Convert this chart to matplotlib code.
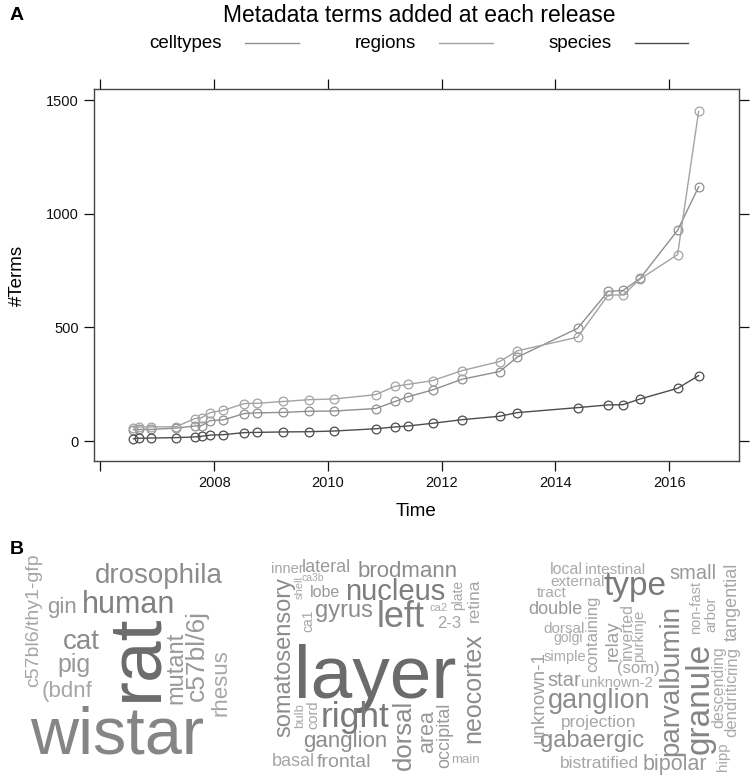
import matplotlib
matplotlib.use("Agg")
import matplotlib.pyplot as plt
from matplotlib.lines import Line2D

plt.rcParams['font.family'] = ['Liberation Sans', 'DejaVu Sans']

# release dates (decimal years) and cumulative term counts
release_year = [2006.58, 2006.67, 2006.89, 2007.33, 2007.66, 2007.78, 2007.93, 2008.16,
                2008.53, 2008.75, 2009.21, 2009.67, 2010.11, 2010.84, 2011.18, 2011.40,
                2011.84, 2012.36, 2013.02, 2013.33, 2014.39, 2014.93, 2015.19, 2015.49,
                2016.15, 2016.52]
celltypes = [50, 51, 51, 57, 66, 68, 90, 93, 121, 124, 126, 131, 132, 143, 174, 194,
             225, 272, 306, 369, 496, 659, 663, 716, 928, 1119]
regions = [59, 62, 62, 63, 99, 103, 125, 135, 165, 166, 174, 182, 185, 204, 241, 249,
           266, 310, 350, 397, 457, 643, 643, 713, 821, 1451]
species = [10, 12, 13, 15, 18, 21, 26, 28, 37, 38, 40, 41, 44, 54, 62, 66, 78, 94,
           109, 125, 147, 159, 160, 185, 232, 288]
series_names = ["celltypes", "regions", "species"]
year_ticks = [2006, 2008, 2010, 2012, 2014, 2016]
year_labels = ["", "2008", "2010", "2012", "2014", "2016"]
count_ticks = [0, 500, 1000, 1500]

# word clouds: words and their font size (pt)
species_words = ["wistar", "rat", "drosophila", "human", "gin", "cat", "pig", "(bdnf",
                 "c57bl6/thy1-gfp", "mutant", "c57bl/6j", "rhesus"]
species_sizes = [48, 54, 20, 22, 16, 20, 18, 16, 14, 17, 19, 16]

region_words = ["layer", "right", "nucleus", "left", "brodmann", "somatosensory", "gyrus",
                "neocortex", "dorsal", "ganglion", "area", "frontal", "occipital", "lateral",
                "basal", "retina", "2-3", "lobe", "plate", "inner", "cord", "ca1", "bulb",
                "main", "shell", "ca2", "ca3b"]
region_sizes = [54, 25.5, 21, 26, 16, 17, 17, 18, 18.5, 16, 15.5, 14, 13, 13, 13, 12.5,
                12, 11.5, 10, 10.5, 10.5, 10, 9.5, 9.5, 8, 8, 7.5]

celltype_words = ["type", "granule", "parvalbumin", "ganglion", "gabaergic", "bipolar",
                  "small", "star", "double", "unknown-1", "tangential", "relay",
                  "projection", "bistratified", "containing", "(som)", "ring", "dendritic",
                  "inverted", "descending", "local", "intestinal", "external", "tract",
                  "dorsal", "simple", "purkinje", "arbor", "hipp", "non-fast", "unknown-2",
                  "golgi"]
celltype_sizes = [24, 24, 20, 19.5, 17, 15.5, 14.5, 14.5, 13, 13.5, 13, 13.5, 12.5, 12.5,
                  12, 12, 12, 12, 11.5, 11.5, 11.5, 11, 11, 11, 11, 10.5, 10.7, 11, 11,
                  10.5, 10.5, 10]

# placement of each word (pixel x of centre, pixel y of baseline, rotation, grey)
species_place = [(117, 753, 0, '#858585'), (156.7, 657, 90, '#6b6b6b'),
                 (159, 582.7, 0, '#8c8c8c'), (129, 612.7, 0, '#808080'),
                 (62, 613, 0, '#999999'), (81, 649, 0, '#8c8c8c'),
                 (74, 671.7, 0, '#999999'), (67, 696.7, 0, '#a6a6a6'),
                 (37.7, 620, 90, '#a6a6a6'), (182.7, 668.3, 90, '#999999'),
                 (204, 655.7, 90, '#999999'), (226, 682.7, 90, '#a6a6a6')]
region_place = [(375, 698.3, 0, '#6b6b6b'), (355, 726.7, 0, '#7a7a7a'),
                (395.7, 600, 0, '#7d7d7d'), (400.7, 627.3, 0, '#808080'),
                (407.3, 577.3, 0, '#8c8c8c'), (290.7, 656.7, 90, '#8c8c8c'),
                (344, 616.7, 0, '#8c8c8c'), (480, 688.3, 90, '#8c8c8c'),
                (411, 735, 90, '#8c8c8c'), (345.7, 746.7, 0, '#8c8c8c'),
                (433.3, 731.7, 90, '#999999'), (344, 766.7, 0, '#999999'),
                (449.3, 735.7, 90, '#999999'), (326.7, 571.7, 0, '#999999'),
                (293.3, 765.7, 0, '#a6a6a6'), (479.3, 600, 90, '#a6a6a6'),
                (449, 627.7, 0, '#a6a6a6'), (325, 597.3, 0, '#999999'),
                (461.7, 595, 90, '#a6a6a6'), (287, 572.7, 0, '#a6a6a6'),
                (317.7, 715, 90, '#a6a6a6'), (312.7, 620.7, 90, '#a6a6a6'),
                (302.7, 715.7, 90, '#aaaaaa'), (465.7, 762.7, 0, '#aaaaaa'),
                (302.7, 587.3, 90, '#aaaaaa'), (439, 611, 0, '#aaaaaa'),
                (313, 581, 0, '#aaaaaa')]
celltype_place = [(635, 595, 0, '#7a7a7a'), (708.3, 698.3, 90, '#858585'),
                  (678.3, 680.7, 90, '#8a8a8a'), (599, 708.3, 0, '#8c8c8c'),
                  (592.3, 747.3, 0, '#8c8c8c'), (675, 770, 0, '#999999'),
                  (693.3, 579, 0, '#999999'), (564, 685.7, 0, '#999999'),
                  (555, 614, 0, '#999999'), (543.3, 696.7, 90, '#a0a0a0'),
                  (736.7, 602.3, 90, '#a6a6a6'), (617.3, 640.7, 90, '#a0a0a0'),
                  (599, 726.7, 0, '#a6a6a6'), (599, 767.7, 0, '#a6a6a6'),
                  (597.7, 634, 90, '#a6a6a6'), (638.3, 673.3, 0, '#a6a6a6'),
                  (736.7, 660.5, 90, '#aaaaaa'), (736.7, 705.5, 90, '#aaaaaa'),
                  (631.7, 631.7, 90, '#aaaaaa'), (723.3, 686.7, 90, '#aaaaaa'),
                  (566.7, 574, 0, '#aaaaaa'), (614.7, 574, 0, '#aaaaaa'),
                  (577.3, 585.7, 0, '#aaaaaa'), (551.3, 596.7, 0, '#aaaaaa'),
                  (564, 632.7, 0, '#aaaaaa'), (565, 660.7, 0, '#aaaaaa'),
                  (642.7, 635.7, 90, '#aaaaaa'), (715, 614, 90, '#aaaaaa'),
                  (727.3, 756.7, 90, '#aaaaaa'), (700, 607.3, 90, '#aaaaaa'),
                  (617.3, 687.3, 0, '#aaaaaa'), (568.3, 641.7, 0, '#aaaaaa')]

W, H = 750, 779
fig = plt.figure(figsize=(W / 100, H / 100), dpi=100)

# ---- panel A ----
ax = fig.add_axes([94 / W, 1 - 461 / H, 645 / W, 372 / H])
colors = ['#8f8f8f', '#a3a3a3', '#4d4d4d']
for name, vals, c in zip(series_names, [celltypes, regions, species], colors):
    ax.plot(release_year, vals, color=c, lw=1.0, marker='o', ms=6.3, mfc='none',
            mec=c, mew=0.9, label=name)
ax.set_xlim(2005.886, 2017.23)
ax.set_ylim(-88, 1550)
ax.set_xticks(year_ticks)
ax.set_xticklabels(year_labels)
ax.set_yticks(count_ticks)
ax.tick_params(direction='out', length=7, width=0.9, top=True, right=True,
               labeltop=False, labelright=False, labelsize=10.5, colors='#111111',
               pad=4)
for s in ax.spines.values():
    s.set_color('#444444')
    s.set_linewidth(1.0)
ax.set_xlabel("Time", fontsize=13.5, labelpad=9)
ax.set_ylabel("#Terms", fontsize=13.5, labelpad=14)

# overlay in pixel coordinates for titles, legend and word clouds
ov = fig.add_axes([0, 0, 1, 1])
ov.set_xlim(0, W)
ov.set_ylim(H, 0)
ov.axis('off')

ov.text(10, 15, "A", fontsize=14, fontweight='bold', va='center', ha='left')
ov.text(10, 550, "B", fontsize=14, fontweight='bold', va='center', ha='left')
ov.text(419, 15, "Metadata terms added at each release", fontsize=16.5,
        ha='center', va='center')

legend_text_x = [185, 385, 580]
legend_line_x = [(245, 299), (439, 493), (635, 688)]
for name, tx, (l0, l1), c in zip(series_names, legend_text_x, legend_line_x, colors):
    ov.text(tx, 43, name, fontsize=13.5, ha='center', va='center')
    ov.add_line(Line2D([l0, l1], [43, 43], color=c, lw=1.0))

# ---- panel B: word clouds ----
for words, sizes, place in [(species_words, species_sizes, species_place),
                            (region_words, region_sizes, region_place),
                            (celltype_words, celltype_sizes, celltype_place)]:
    for w, sz, (x, y, rot, g) in zip(words, sizes, place):
        ov.text(x, y, w, fontsize=sz, rotation=rot, rotation_mode='anchor',
                ha='center', va='baseline', color=g)

fig.savefig("out.png", dpi=100)
